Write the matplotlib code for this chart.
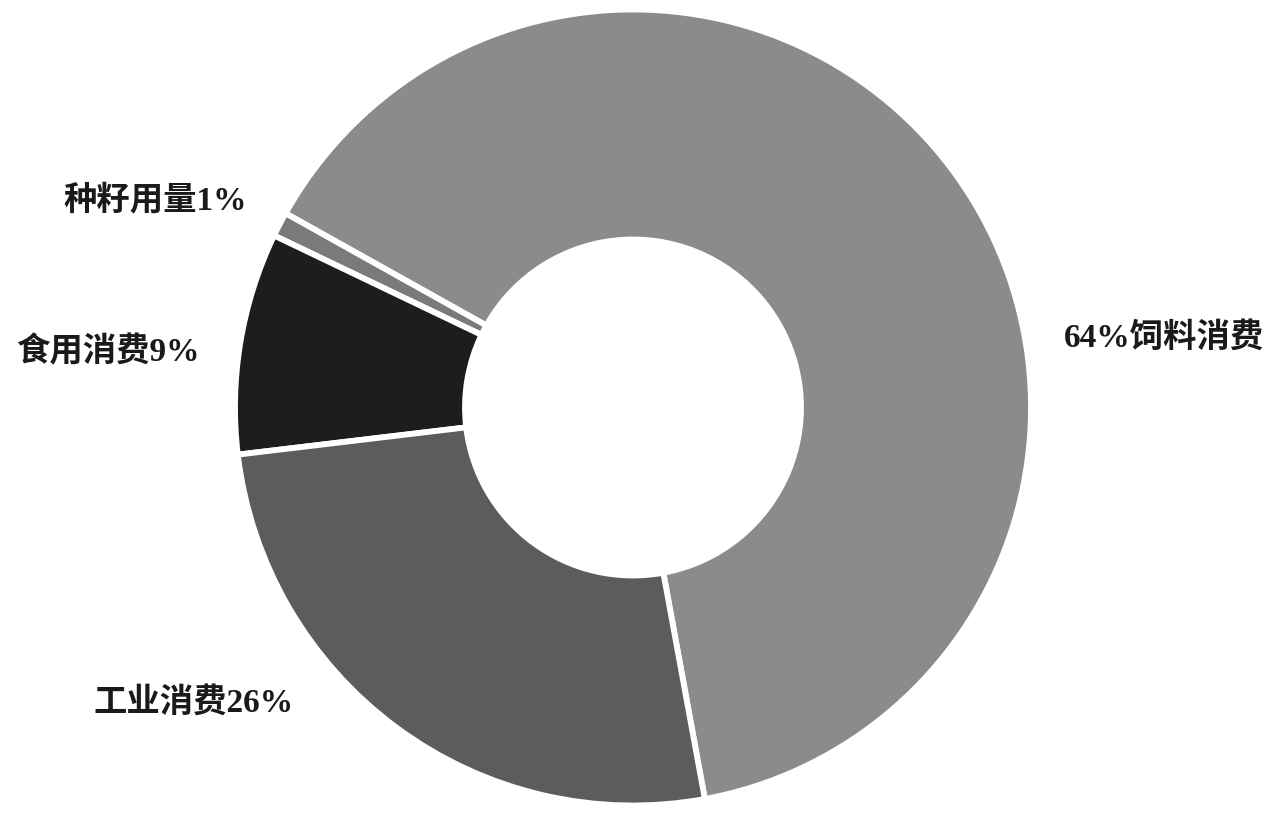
import matplotlib
matplotlib.use("Agg")
import matplotlib.pyplot as plt

categories = ["饲料消费", "种籽用量", "食用消费", "工业消费"]
values = [64, 1, 9, 26]
labels = ["64%饲料消费", "种籽用量1%", "食用消费9%", "工业消费26%"]
colors = ["#8b8b8b", "#7a7a7a", "#1d1d1d", "#5c5c5c"]

fig = plt.figure(figsize=(12.8, 8.16), dpi=100)
ax = fig.add_axes([0, 0, 1, 1])
ax.set_xlim(0, 1280)
ax.set_ylim(0, 816)
ax.set_aspect("equal")
ax.axis("off")

R = 398
ax.pie(values, colors=colors, startangle=-79.6, counterclock=True,
       center=(633, 408.5), radius=R,
       wedgeprops=dict(width=R - 168, edgecolor="white", linewidth=4.2))
ax.set_xlim(0, 1280)
ax.set_ylim(0, 816)

fam = ["Liberation Serif", "Noto Sans CJK SC"]
label_pos = [(1164, 478), (155, 616), (108, 464), (194, 113)]
for lab, (x, y) in zip(labels, label_pos):
    ax.text(x, y, lab, ha="center", va="center", fontsize=24,
            fontweight="bold", family=fam, color="#1a1a1a")

fig.savefig("out.png", dpi=100)
